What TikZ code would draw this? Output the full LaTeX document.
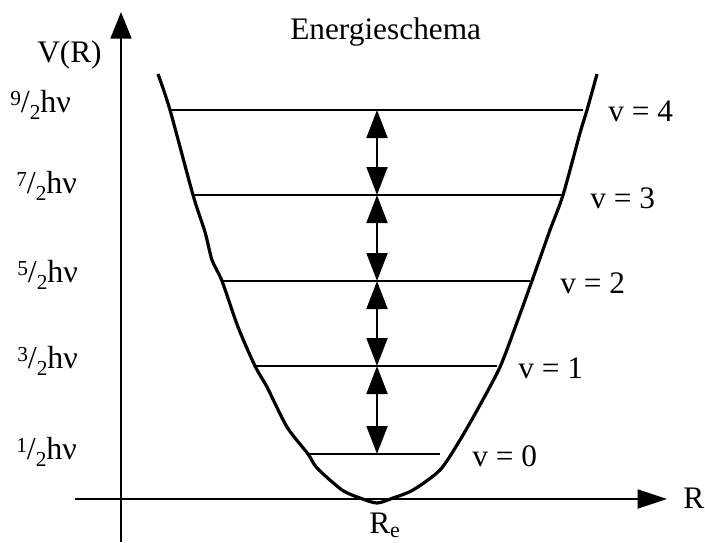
\documentclass[tikz,border=0pt]{standalone}
\usepackage{fontspec}
\setmainfont{Liberation Serif}
\usetikzlibrary{arrows.meta}
\newcommand\hvlab[1]{\raisebox{0.2em}{\fontsize{16}{16}\selectfont #1}/\raisebox{-0.22em}{\fontsize{16}{16}\selectfont 2}hν}
\begin{document}
\begin{tikzpicture}[x=0.75pt,y=-0.75pt,
  ln/.style={line width=2.2pt},
  axis/.style={line width=2.2pt,-{Triangle[length=20pt,width=15.5pt]}},
  haxis/.style={line width=2.2pt,-{Triangle[length=22pt,width=14pt]}},
  dbl/.style={line width=2.2pt,{Triangle[length=21pt,width=15.5pt]}-{Triangle[length=21pt,width=15.5pt]}},
  lbl/.style={inner sep=0pt,font=\fontsize{23.5}{27}\selectfont},
  llbl/.style={inner sep=0pt,font=\fontsize{24}{27}\selectfont}]
\useasboundingbox (0,0) rectangle (705,542);
% axes
\coordinate (vb) at (121,542);
\coordinate (vt) at (121,12);
\coordinate (hl) at (75,499);
\coordinate (hr) at (667,499);
\draw[axis] (vb) -- (vt);
\draw[haxis] (hl) -- (hr);
% potential curve
\draw[line width=2.4pt,line join=round] plot[smooth,tension=0.45] coordinates {
 (158,74) (170,110) (193,195) (205,232) (212,260) (222,281) (238,327) (255,366)
 (267,387) (287,427) (308,454) (317,468) (342,490) (360,498) (377,503)
 (393,498) (413,490) (440,470) (460,440) (480,405) (500,367) (516,325)
 (533,278) (550,230) (563,195) (580,133) (587,110) (597,74)};
% levels
\coordinate (l4a) at (170,110); \coordinate (l4b) at (583,110);
\coordinate (l3a) at (193,195); \coordinate (l3b) at (563,195);
\coordinate (l2a) at (222,281); \coordinate (l2b) at (530,281);
\coordinate (l1a) at (255,366); \coordinate (l1b) at (497,366);
\coordinate (l0a) at (308,454); \coordinate (l0b) at (440,454);
\draw[ln] (l4a) -- (l4b);
\draw[ln] (l3a) -- (l3b);
\draw[ln] (l2a) -- (l2b);
\draw[ln] (l1a) -- (l1b);
\draw[ln] (l0a) -- (l0b);
% double arrows
\coordinate (a4) at (377,110);
\coordinate (a3) at (377,195);
\coordinate (a2) at (377,281);
\coordinate (a1) at (377,366);
\coordinate (a0) at (377,454);
\draw[dbl] (a0) -- (a1);
\draw[dbl] (a1) -- (a2);
\draw[dbl] (a2) -- (a3);
\draw[dbl] (a3) -- (a4);
% labels
\node[lbl,anchor=base west] (title) at (290,40) {Energieschema};
\node[lbl,anchor=base west] (vr) at (37,62) {V(R)};
\node[lbl,anchor=base west] (rr) at (683,508) {R};
\node[lbl,anchor=base west] (re) at (369,533) {R\textsubscript{e}};
\node[llbl,anchor=base west] (e4) at (10,112) {\hvlab{9}};
\node[llbl,anchor=base west] (e3) at (16,193) {\hvlab{7}};
\node[llbl,anchor=base west] (e2) at (17,282) {\hvlab{5}};
\node[llbl,anchor=base west] (e1) at (17,368) {\hvlab{3}};
\node[llbl,anchor=base west] (e0) at (16,459) {\hvlab{1}};
\node[lbl,anchor=base west] (v4) at (608,121) {v = 4};
\node[lbl,anchor=base west] (v3) at (590,208) {v = 3};
\node[lbl,anchor=base west] (v2) at (560,293) {v = 2};
\node[lbl,anchor=base west] (v1) at (518,378) {v = 1};
\node[lbl,anchor=base west] (v0) at (472,466) {v = 0};
\end{tikzpicture}
\end{document}
